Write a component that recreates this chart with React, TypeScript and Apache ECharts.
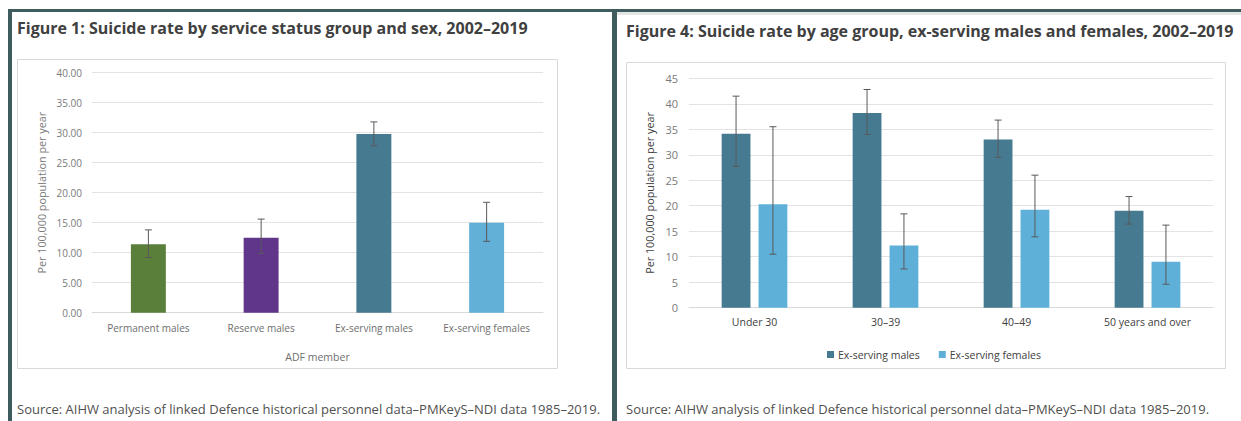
import React, { useEffect, useRef } from "react";
import * as echarts from "echarts";

// Figure 1 data
const fig1Categories = ["Permanent males", "Reserve males", "Ex-serving males", "Ex-serving females"];
const fig1Values = [11.4, 12.5, 29.8, 15.0];
const fig1Low = [9.2, 9.9, 27.8, 11.9];
const fig1High = [13.8, 15.6, 31.8, 18.4];
const fig1Colors = ["#5A7F3B", "#5F3689", "#467A91", "#62B0D8"];
const fig1Ticks = [0, 5, 10, 15, 20, 25, 30, 35, 40];

// Figure 4 data
const fig4Categories = ["Under 30", "30–39", "40–49", "50 years and over"];
const fig4Males = [34.1, 38.2, 33.0, 19.0];
const fig4MalesLow = [27.7, 34.0, 29.5, 16.4];
const fig4MalesHigh = [41.5, 42.8, 36.8, 21.8];
const fig4Females = [20.3, 12.2, 19.2, 9.0];
const fig4FemalesLow = [10.5, 7.6, 13.9, 4.6];
const fig4FemalesHigh = [35.5, 18.4, 26.0, 16.2];
const fig4Ticks = [0, 5, 10, 15, 20, 25, 30, 35, 40, 45];

const title1 = "Figure 1: Suicide rate by service status group and sex, 2002–2019";
const title4 = "Figure 4: Suicide rate by age group, ex-serving males and females, 2002–2019";
const sourceText = "Source: AIHW analysis of linked Defence historical personnel data–PMKeyS–NDI data 1985–2019.";
const yTitle = "Per 100,000 population per year";

const FONT = "'Open Sans', 'DejaVu Sans', sans-serif";
const BORDER = "#3E5C5D";

function errorSeries(lo: number[], hi: number[], axisIndex: number, offsetFrac: number) {
  return {
    type: "custom",
    xAxisIndex: axisIndex,
    yAxisIndex: axisIndex,
    silent: true,
    z: 5,
    data: lo.map((l, i) => [i, l, hi[i]]),
    encode: { x: 0, y: [1, 2] },
    renderItem: (params: any, api: any) => {
      const x = api.value(0);
      const pLo = api.coord([x, api.value(1)]);
      const pHi = api.coord([x, api.value(2)]);
      const catW = api.size([1, 0])[0];
      const cx = pLo[0] + offsetFrac * catW;
      const cap = 3.5;
      const style = { stroke: "#595959", lineWidth: 1 };
      return {
        type: "group",
        children: [
          { type: "line", shape: { x1: cx, y1: pHi[1], x2: cx, y2: pLo[1] }, style },
          { type: "line", shape: { x1: cx - cap, y1: pHi[1], x2: cx + cap, y2: pHi[1] }, style },
          { type: "line", shape: { x1: cx - cap, y1: pLo[1], x2: cx + cap, y2: pLo[1] }, style },
        ],
      };
    },
  };
}

export default function App() {
  const ref = useRef<HTMLDivElement>(null);
  useEffect(() => {
    if (!ref.current) return;
    const chart = echarts.init(ref.current, undefined, { renderer: "svg" });
    const barW4 = 0.22;
    const gap4 = 0.28;
    const off4 = (barW4 * (1 + gap4)) / 2;
    const option: any = {
      animation: false,
      backgroundColor: "#ffffff",
      textStyle: { fontFamily: FONT },
      graphic: [
        // panel borders
        { type: "rect", shape: { x: 8, y: 9, width: 609, height: 3 }, style: { fill: BORDER }, silent: true },
        { type: "rect", shape: { x: 617, y: 9, width: 624, height: 3 }, style: { fill: BORDER }, silent: true },
        { type: "rect", shape: { x: 617, y: 12, width: 624, height: 3 }, style: { fill: "#E4E6E6" }, silent: true },
        { type: "rect", shape: { x: 8, y: 9, width: 4, height: 412 }, style: { fill: BORDER }, silent: true },
        { type: "rect", shape: { x: 612, y: 9, width: 5, height: 412 }, style: { fill: BORDER }, silent: true },
        // chart boxes
        { type: "rect", shape: { x: 17.5, y: 59.5, width: 540, height: 309 }, style: { fill: "none", stroke: "#D9D9D9", lineWidth: 1 }, silent: true },
        { type: "rect", shape: { x: 626.5, y: 62.5, width: 599, height: 306 }, style: { fill: "none", stroke: "#D9D9D9", lineWidth: 1 }, silent: true },
        // titles
        { type: "text", x: 17, y: 28, style: { text: title1, fill: "#404040", font: `bold 16px ${FONT}`, textVerticalAlign: "middle" } },
        { type: "text", x: 626, y: 31, style: { text: title4, fill: "#404040", font: `bold 16px ${FONT}`, textVerticalAlign: "middle" } },
        // sources
        { type: "text", x: 17, y: 409, style: { text: sourceText, fill: "#505050", font: `13px ${FONT}`, textVerticalAlign: "middle" } },
        { type: "text", x: 626, y: 409, style: { text: sourceText, fill: "#505050", font: `13px ${FONT}`, textVerticalAlign: "middle" } },
      ],
      legend: {
        data: ["Ex-serving males", "Ex-serving females"],
        left: 822,
        top: 344,
        itemWidth: 7,
        itemHeight: 7,
        itemGap: 19,
        icon: "rect",
        textStyle: { fontFamily: FONT, fontSize: 10.5, color: "#404040", padding: [0, 0, 0, -1] },
      },
      grid: [
        { left: 92, top: 72.7, width: 451, height: 240, containLabel: false },
        { left: 689, top: 78.3, width: 524, height: 229.4, containLabel: false },
      ],
      xAxis: [
        {
          type: "category",
          gridIndex: 0,
          data: fig1Categories,
          axisTick: { show: false },
          axisLine: { lineStyle: { color: "#D9D9D9" } },
          axisLabel: { color: "#6E6E6E", fontSize: 10, margin: 10, fontFamily: FONT, interval: 0 },
          name: "ADF member",
          nameLocation: "middle",
          nameGap: 39,
          nameTextStyle: { color: "#6E6E6E", fontSize: 10.5, fontFamily: FONT },
        },
        {
          type: "category",
          gridIndex: 1,
          data: fig4Categories,
          axisTick: { show: false },
          axisLine: { lineStyle: { color: "#D9D9D9" } },
          axisLabel: { color: "#404040", fontSize: 10.5, margin: 9, fontFamily: FONT, interval: 0 },
        },
      ],
      yAxis: [
        {
          type: "value",
          gridIndex: 0,
          min: fig1Ticks[0],
          max: fig1Ticks[fig1Ticks.length - 1],
          interval: 5,
          axisLine: { show: false },
          axisTick: { show: false },
          splitLine: { lineStyle: { color: "#E3E3E3" } },
          axisLabel: { color: "#7A7A7A", fontSize: 10, margin: 10, fontFamily: FONT, formatter: (v: number) => v.toFixed(2) },
          name: yTitle,
          nameLocation: "middle",
          nameGap: 45,
          nameRotate: 90,
          nameTextStyle: { color: "#7A7A7A", fontSize: 10.8, fontFamily: FONT },
        },
        {
          type: "value",
          gridIndex: 1,
          min: fig4Ticks[0],
          max: fig4Ticks[fig4Ticks.length - 1],
          interval: 5,
          axisLine: { show: false },
          axisTick: { show: false },
          splitLine: { lineStyle: { color: "#E3E3E3" } },
          axisLabel: { color: "#7A7A7A", fontSize: 11, margin: 11, fontFamily: FONT },
          name: yTitle,
          nameLocation: "middle",
          nameGap: 34,
          nameRotate: 90,
          nameTextStyle: { color: "#404040", fontSize: 10.8, fontFamily: FONT },
        },
      ],
      series: [
        {
          type: "bar",
          name: "ADF member",
          xAxisIndex: 0,
          yAxisIndex: 0,
          barWidth: "31%",
          data: fig1Values.map((v, i) => ({ value: v, itemStyle: { color: fig1Colors[i] } })),
        },
        errorSeries(fig1Low, fig1High, 0, 0),
        {
          type: "bar",
          name: "Ex-serving males",
          xAxisIndex: 1,
          yAxisIndex: 1,
          barWidth: "22%",
          barGap: "28%",
          itemStyle: { color: "#467A91" },
          data: fig4Males,
        },
        {
          type: "bar",
          name: "Ex-serving females",
          xAxisIndex: 1,
          yAxisIndex: 1,
          barWidth: "22%",
          barGap: "28%",
          itemStyle: { color: "#5EB0D9" },
          data: fig4Females,
        },
        errorSeries(fig4MalesLow, fig4MalesHigh, 1, -off4),
        errorSeries(fig4FemalesLow, fig4FemalesHigh, 1, off4),
      ],
    };
    chart.setOption(option);
    return () => chart.dispose();
  }, []);
  return (
    <div
      ref={ref}
      style={{ position: "absolute", left: 0, top: 0, width: 1241, height: 421 }}
    />
  );
}
